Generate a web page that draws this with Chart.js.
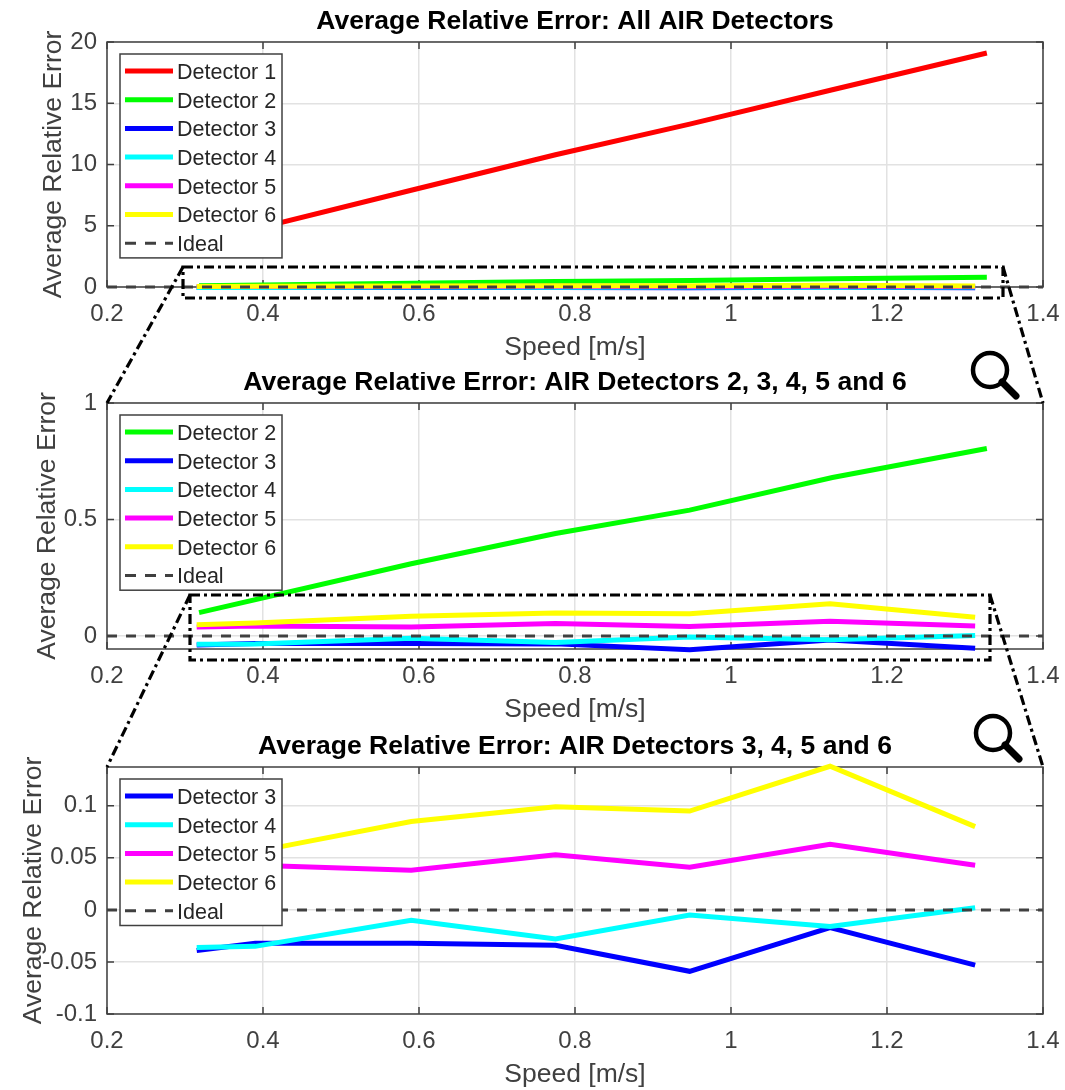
<!DOCTYPE html>
<html>
<head>
<meta charset="utf-8">
<title>Average Relative Error</title>
<script src="https://cdn.jsdelivr.net/npm/chart.js@4/dist/chart.umd.min.js"></script>
<style>
  html, body { margin: 0; padding: 0; background: #fff; }
  #page { position: relative; width: 1065px; height: 1090px; overflow: hidden; }
  canvas { position: absolute; left: 0; }
  svg { position: absolute; left: 0; top: 0; pointer-events: none; }
</style>
</head>
<body>
<div id="page">
  <canvas id="top" width="1065" height="372" style="top:0"></canvas>
  <canvas id="mid" width="1065" height="363" style="top:372px"></canvas>
  <canvas id="low" width="1065" height="355" style="top:735px"></canvas>
  <!-- zoom callouts, they cross the panels so they sit on top of the canvases -->
  <svg width="1065" height="1090" fill="none" stroke="#000">
    <g stroke-width="3.2" stroke-dasharray="10 4 3 4">
      <rect x="183" y="267" width="820" height="31"></rect>
      <path d="M183 267 L107 403 M1003 267 L1043 403"></path>
      <rect x="190" y="595" width="800" height="65"></rect>
      <path d="M190 595 L107 767 M990 595 L1043 767"></path>
    </g>
    <g stroke-linecap="round">
      <circle cx="990" cy="370" r="17" stroke-width="4.5"></circle>
      <path d="M1002 382 L1016 396" stroke-width="7"></path>
      <circle cx="993" cy="733" r="17" stroke-width="4.5"></circle>
      <path d="M1005 745 L1019 759" stroke-width="7"></path>
    </g>
  </svg>
</div>
<script>
const speedLong = [0.318, 0.59, 0.775, 0.947, 1.13, 1.328];
const speedShort = [0.315, 0.39, 0.59, 0.775, 0.947, 1.127, 1.313];
const idealSpeed = [0.2, 1.4];
const idealValues = [0, 0];

const detector1 = [3.6, 7.9, 10.8, 13.3, 16.1, 19.1];
const detector2 = [0.1, 0.31, 0.44, 0.54, 0.68, 0.805];
const detector3 = [-0.039, -0.032, -0.032, -0.034, -0.059, -0.017, -0.053];
const detector4 = [-0.036, -0.035, -0.01, -0.028, -0.005, -0.016, 0.002];
const detector5 = [0.038, 0.043, 0.038, 0.053, 0.041, 0.063, 0.043];
const detector6 = [0.048, 0.056, 0.085, 0.099, 0.095, 0.138, 0.08];

const xTicks = [0.2, 0.4, 0.6, 0.8, 1, 1.2, 1.4];
const yTicksTop = [0, 5, 10, 15, 20];
const yTicksMid = [0, 0.5, 1];
const yTicksLow = [-0.1, -0.05, 0, 0.05, 0.1];

const FONT = "'Liberation Sans', Arial, sans-serif";
const GREY = "#404040";

function zip(xs, ys) {
  return xs.map((x, i) => ({ x: x, y: ys[i] }));
}

function line(label, xs, ys, color) {
  return { label: label, data: zip(xs, ys), borderColor: color, borderWidth: 5, pointRadius: 0, tension: 0, fill: false, clip: false };
}

const det = {
  1: line("Detector 1", speedLong, detector1, "#ff0000"),
  2: line("Detector 2", speedLong, detector2, "#00ff00"),
  3: line("Detector 3", speedShort, detector3, "#0000ff"),
  4: line("Detector 4", speedShort, detector4, "#00ffff"),
  5: line("Detector 5", speedShort, detector5, "#ff00ff"),
  6: line("Detector 6", speedShort, detector6, "#ffff00"),
};

function idealLine() {
  const d = line("Ideal", idealSpeed, idealValues, "#404040");
  d.borderWidth = 3;
  d.borderDash = [10, 9];
  return d;
}

// matlab style box: dark frame with short ticks pointing inwards, legend goes over the lines
const matlabBox = {
  id: "matlabBox",
  beforeDatasetsDraw(chart) {
    const { ctx, chartArea: a, scales } = chart;
    ctx.save();
    ctx.strokeStyle = GREY;
    ctx.lineWidth = 1.5;
    ctx.strokeRect(a.left, a.top, a.width, a.height);
    ctx.beginPath();
    scales.x.ticks.forEach(t => {
      const px = scales.x.getPixelForValue(t.value);
      ctx.moveTo(px, a.top); ctx.lineTo(px, a.top + 7);
      ctx.moveTo(px, a.bottom); ctx.lineTo(px, a.bottom - 7);
    });
    scales.y.ticks.forEach(t => {
      const py = scales.y.getPixelForValue(t.value);
      ctx.moveTo(a.left, py); ctx.lineTo(a.left + 7, py);
      ctx.moveTo(a.right, py); ctx.lineTo(a.right - 7, py);
    });
    ctx.stroke();
    ctx.restore();
  },
  afterDatasetsDraw(chart) {
    const { ctx, chartArea: a } = chart;
    const sets = chart.data.datasets;
    const left = a.left + 13, top = a.top + 12, rowH = 28.7;
    ctx.save();
    ctx.strokeStyle = GREY;
    ctx.lineWidth = 1.5;
    ctx.fillStyle = "#fff";
    ctx.fillRect(left, top, 162, sets.length * rowH + 3);
    ctx.strokeRect(left, top, 162, sets.length * rowH + 3);
    ctx.font = "21.5px " + FONT;
    ctx.textBaseline = "middle";
    sets.forEach((d, i) => {
      const y = top + 18 + i * rowH;
      ctx.beginPath();
      ctx.strokeStyle = d.borderColor;
      ctx.lineWidth = d.borderWidth;
      ctx.setLineDash(d.borderDash ? [11, 9] : []);
      ctx.moveTo(left + 5, y - 1);
      ctx.lineTo(left + 53, y - 1);
      ctx.stroke();
      ctx.setLineDash([]);
      ctx.fillStyle = "#262626";
      ctx.fillText(d.label, left + 57, y + 1);
    });
    ctx.restore();
  },
};

function makePanel(id, cfg) {
  const sets = cfg.datasets;
  // first dataset gets drawn last in chart.js, so flip it: later ones sit on top
  sets.forEach((d, i) => { d.order = sets.length - i; });
  return new Chart(document.getElementById(id), {
    type: "line",
    data: { datasets: sets },
    plugins: [matlabBox],
    options: {
      responsive: false,
      animation: false,
      layout: { padding: { right: 22 } },
      plugins: {
        legend: { display: false },
        tooltip: { enabled: false },
        title: {
          display: true,
          fullSize: false,
          text: cfg.title,
          color: "#000",
          font: { family: FONT, size: 26.5, weight: "bold", lineHeight: 1 },
          padding: { top: cfg.areaTop - 26.5 - 7, bottom: 7 },
        },
      },
      scales: {
        x: {
          type: "linear",
          min: 0.2,
          max: 1.4,
          afterBuildTicks(s) { s.ticks = xTicks.map(v => ({ value: v })); },
          afterFit(s) { s.height = cfg.xHeight; s.paddingLeft = 0; s.paddingRight = 0; },
          grid: { color: "#e2e2e2", lineWidth: 1.5, drawTicks: false },
          border: { display: false },
          ticks: { color: GREY, padding: 13, maxRotation: 0, autoSkip: false, font: { family: FONT, size: 24 }, callback: v => String(v) },
          title: { display: true, text: "Speed [m/s]", color: GREY, font: { family: FONT, size: 26.5, lineHeight: 1 }, padding: { top: 0, bottom: cfg.xTitlePad } },
        },
        y: {
          min: cfg.yMin,
          max: cfg.yMax,
          afterBuildTicks(s) { s.ticks = cfg.yTicks.map(v => ({ value: v })); },
          afterFit(s) { s.width = 107; },
          grid: { color: "#e2e2e2", lineWidth: 1.5, drawTicks: false },
          border: { display: false },
          ticks: { color: GREY, padding: 10, autoSkip: false, font: { family: FONT, size: 24 }, callback: v => String(v) },
          title: { display: true, text: "Average Relative Error", color: GREY, font: { family: FONT, size: 26.5, lineHeight: 1 }, padding: { top: cfg.yTitlePad, bottom: 0 } },
        },
      },
    },
  });
}

makePanel("top", {
  title: "Average Relative Error: All AIR Detectors",
  datasets: [det[1], det[2], det[3], det[4], det[5], det[6], idealLine()],
  yMin: 0, yMax: 20, yTicks: yTicksTop,
  areaTop: 42, xHeight: 85, xTitlePad: 11, yTitlePad: 40,
});
makePanel("mid", {
  title: "Average Relative Error: AIR Detectors 2, 3, 4, 5 and 6",
  datasets: [det[2], det[3], det[4], det[5], det[6], idealLine()],
  yMin: -0.056, yMax: 1, yTicks: yTicksMid,
  areaTop: 31, xHeight: 86, xTitlePad: 12, yTitlePad: 34,
});
makePanel("low", {
  title: "Average Relative Error: AIR Detectors 3, 4, 5 and 6",
  datasets: [det[3], det[4], det[5], det[6], idealLine()],
  yMin: -0.1, yMax: 0.1373, yTicks: yTicksLow,
  areaTop: 32, xHeight: 76, xTitlePad: 2, yTitlePad: 20,
});
</script>
</body>
</html>
